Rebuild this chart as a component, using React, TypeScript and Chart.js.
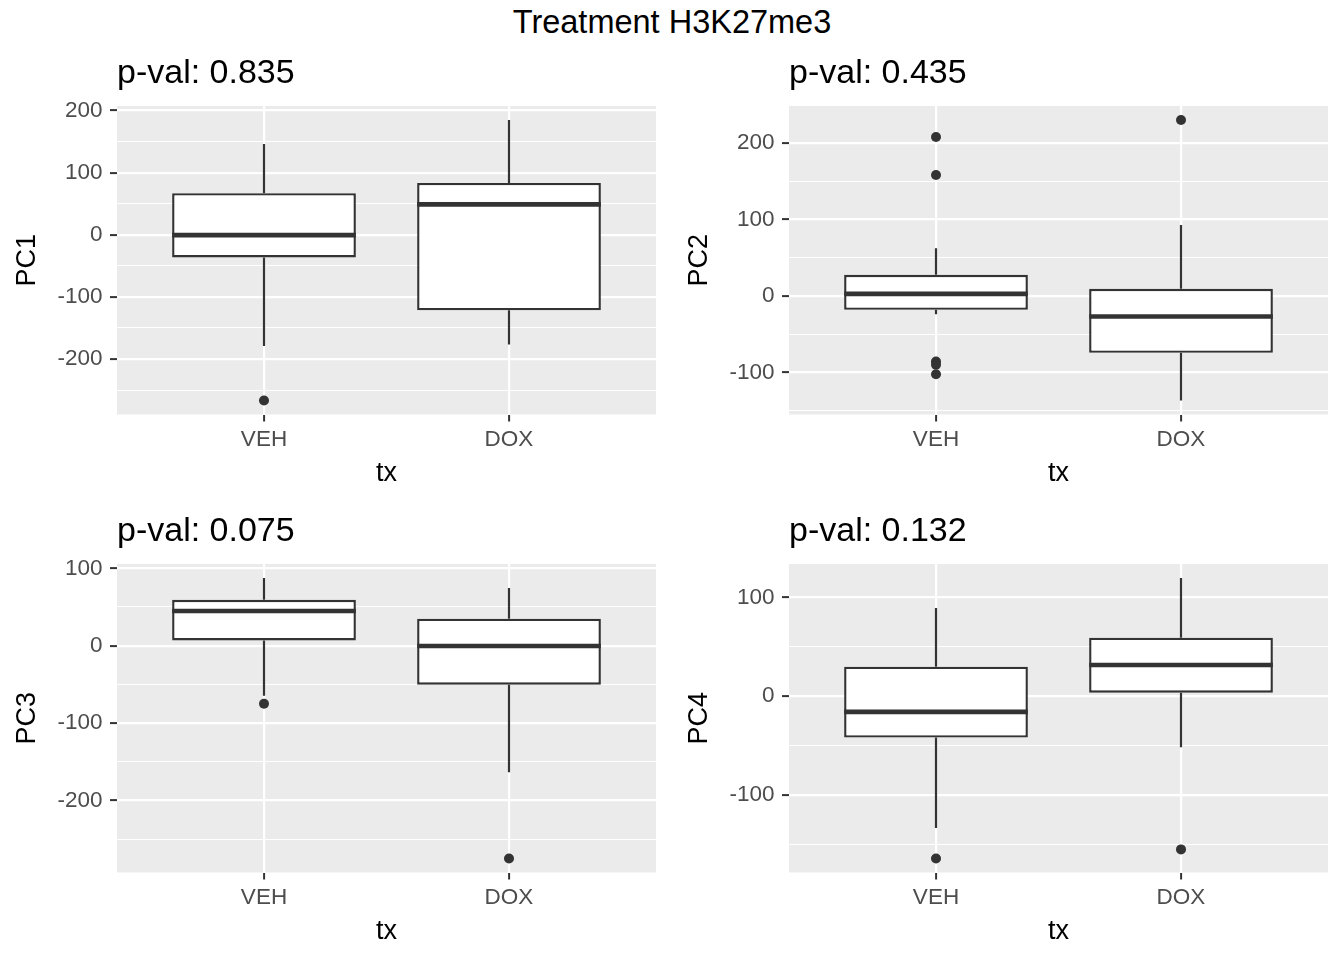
import React, { useEffect, useRef } from 'react';
import { Chart, registerables } from 'chart.js';

Chart.register(...registerables);

const FONT = "'Liberation Sans', Arial, Helvetica, sans-serif";

const mainTitle = 'Treatment H3K27me3';
const categories = ['VEH', 'DOX'];
const categoryPositions = [1, 2];
const xAxisTitle = 'tx';

const panelTitles = ['p-val: 0.835', 'p-val: 0.435', 'p-val: 0.075', 'p-val: 0.132'];
const yAxisTitles = ['PC1', 'PC2', 'PC3', 'PC4'];

// PC1
const pc1Low = [-179, -176.5];
const pc1Q1 = [-36.4, -121.5];
const pc1Median = [-0.5, 49];
const pc1Q3 = [67, 83.5];
const pc1High = [146, 184.6];
const pc1OutliersVEH = [-266.5];
const pc1OutliersDOX: number[] = [];
const pc1MajorTicks = [-200, -100, 0, 100, 200];
const pc1MinorTicks = [-250, -150, -50, 50, 150];

// PC2
const pc2Low = [-24, -136.8];
const pc2Q1 = [-18.3, -74.5];
const pc2Median = [2.6, -27];
const pc2Q3 = [27.5, 9.2];
const pc2High = [62.3, 92.8];
const pc2OutliersVEH = [207.8, 158, -85.8, -90, -102.4];
const pc2OutliersDOX = [230];
const pc2MajorTicks = [-100, 0, 100, 200];
const pc2MinorTicks = [-150, -50, 50, 150];

// PC3
const pc3Low = [-64.6, -163.6];
const pc3Q1 = [6.9, -50.4];
const pc3Median = [44.8, -0.4];
const pc3Q3 = [59.4, 34.9];
const pc3High = [87.5, 74.5];
const pc3OutliersVEH = [-75];
const pc3OutliersDOX = [-275];
const pc3MajorTicks = [-200, -100, 0, 100];
const pc3MinorTicks = [-250, -150, -50, 50];

// PC4
const pc4Low = [-133.3, -51.5];
const pc4Q1 = [-41.7, 3.7];
const pc4Median = [-15.8, 31.7];
const pc4Q3 = [30, 59.3];
const pc4High = [89.3, 119.6];
const pc4OutliersVEH = [-164];
const pc4OutliersDOX = [-154.8];
const pc4MajorTicks = [-100, 0, 100];
const pc4MinorTicks = [-150, -50, 50];

type Panel = {
  title: string;
  yTitle: string;
  low: number[];
  q1: number[];
  median: number[];
  q3: number[];
  high: number[];
  outliers: number[][];
  major: number[];
  minor: number[];
};

const panels: Panel[] = [
  { title: panelTitles[0], yTitle: yAxisTitles[0], low: pc1Low, q1: pc1Q1, median: pc1Median, q3: pc1Q3, high: pc1High, outliers: [pc1OutliersVEH, pc1OutliersDOX], major: pc1MajorTicks, minor: pc1MinorTicks },
  { title: panelTitles[1], yTitle: yAxisTitles[1], low: pc2Low, q1: pc2Q1, median: pc2Median, q3: pc2Q3, high: pc2High, outliers: [pc2OutliersVEH, pc2OutliersDOX], major: pc2MajorTicks, minor: pc2MinorTicks },
  { title: panelTitles[2], yTitle: yAxisTitles[2], low: pc3Low, q1: pc3Q1, median: pc3Median, q3: pc3Q3, high: pc3High, outliers: [pc3OutliersVEH, pc3OutliersDOX], major: pc3MajorTicks, minor: pc3MinorTicks },
  { title: panelTitles[3], yTitle: yAxisTitles[3], low: pc4Low, q1: pc4Q1, median: pc4Median, q3: pc4Q3, high: pc4High, outliers: [pc4OutliersVEH, pc4OutliersDOX], major: pc4MajorTicks, minor: pc4MinorTicks },
];

const CANVAS_W = 672;
const CANVAS_H = 458;
const INK = '#333333';

function buildConfig(p: Panel): any {
  const all = [...p.low, ...p.high, ...p.outliers[0], ...p.outliers[1]];
  const lo = Math.min(...all);
  const hi = Math.max(...all);
  const pad = (hi - lo) * 0.05;
  const isMajor = (v: any) => p.major.includes(v);
  const yTicks = [...p.major, ...p.minor].sort((a, b) => a - b);

  const boxPlugin = {
    id: 'boxExtras',
    beforeDraw(chart: any) {
      const { ctx, chartArea } = chart;
      ctx.save();
      ctx.fillStyle = '#EBEBEB';
      ctx.fillRect(chartArea.left, chartArea.top, chartArea.right - chartArea.left, chartArea.bottom - chartArea.top);
      ctx.restore();
    },
    beforeDatasetsDraw(chart: any) {
      const { ctx } = chart;
      const xs = chart.scales.x;
      const ys = chart.scales.y;
      ctx.save();
      ctx.strokeStyle = INK;
      ctx.lineWidth = 2.2;
      categoryPositions.forEach((c, i) => {
        const px = xs.getPixelForValue(c);
        ctx.beginPath();
        ctx.moveTo(px, ys.getPixelForValue(p.high[i]));
        ctx.lineTo(px, ys.getPixelForValue(p.q3[i]));
        ctx.moveTo(px, ys.getPixelForValue(p.q1[i]));
        ctx.lineTo(px, ys.getPixelForValue(p.low[i]));
        ctx.stroke();
      });
      ctx.restore();
    },
    afterDatasetsDraw(chart: any) {
      const { ctx } = chart;
      const xs = chart.scales.x;
      const ys = chart.scales.y;
      const meta = chart.getDatasetMeta(0);
      ctx.save();
      ctx.strokeStyle = INK;
      ctx.lineWidth = 4.6;
      categoryPositions.forEach((c, i) => {
        const px = xs.getPixelForValue(c);
        const w = meta.data[i] ? meta.data[i].width : 0;
        const py = ys.getPixelForValue(p.median[i]);
        ctx.beginPath();
        ctx.moveTo(px - w / 2, py);
        ctx.lineTo(px + w / 2, py);
        ctx.stroke();
      });
      ctx.restore();
    },
  };

  return {
    type: 'bar',
    data: {
      datasets: [
        {
          type: 'bar',
          data: categoryPositions.map((x, i) => ({ x, y: [p.q1[i], p.q3[i]] })),
          backgroundColor: '#FFFFFF',
          borderColor: INK,
          borderWidth: 2.4,
          borderSkipped: false,
          barPercentage: 0.75,
          categoryPercentage: 1,
        },
        {
          type: 'scatter',
          data: [
            ...p.outliers[0].map((y) => ({ x: categoryPositions[0], y })),
            ...p.outliers[1].map((y) => ({ x: categoryPositions[1], y })),
          ],
          pointRadius: 5,
          pointBackgroundColor: INK,
          pointBorderColor: INK,
          pointBorderWidth: 0,
        },
      ],
    },
    options: {
      responsive: false,
      maintainAspectRatio: false,
      animation: false,
      events: [],
      layout: { padding: { left: 0, right: 16, top: 0, bottom: 0 } },
      plugins: {
        legend: { display: false },
        tooltip: { enabled: false },
        title: {
          display: true,
          text: p.title,
          align: 'start',
          fullSize: false,
          color: '#000000',
          font: { family: FONT, size: 34, weight: 'normal', lineHeight: 1.2 },
          padding: { top: 8.8, bottom: 12.4 },
        },
      },
      scales: {
        x: {
          type: 'linear',
          min: 0.4,
          max: 2.6,
          offset: false,
          afterBuildTicks: (s: any) => {
            s.ticks = categoryPositions.map((v) => ({ value: v }));
          },
          afterFit: (s: any) => {
            s.height = 87.5;
          },
          ticks: {
            callback: (v: any) => {
              const k = categoryPositions.indexOf(v);
              return k >= 0 ? categories[k] : '';
            },
            color: '#4D4D4D',
            font: { family: FONT, size: 22.5, lineHeight: 1.2 },
            padding: 5,
            maxRotation: 0,
            autoSkip: false,
          },
          grid: {
            offset: false,
            color: '#FFFFFF',
            lineWidth: 2.2,
            tickColor: INK,
            tickLength: 7,
            tickWidth: 2,
            drawTicks: true,
          },
          border: { display: false },
          title: {
            display: true,
            text: xAxisTitle,
            color: '#000000',
            font: { family: FONT, size: 27, lineHeight: 1.2 },
            padding: { top: 0, bottom: 11.8 },
          },
        },
        y: {
          type: 'linear',
          min: lo - pad,
          max: hi + pad,
          afterBuildTicks: (s: any) => {
            s.ticks = yTicks.map((v) => ({ value: v }));
          },
          afterFit: (s: any) => {
            s.width = 117;
          },
          ticks: {
            callback: (v: any) => (isMajor(v) ? String(v) : ''),
            color: '#4D4D4D',
            font: { family: FONT, size: 22.5, lineHeight: 1.2 },
            padding: 7.5,
            autoSkip: false,
          },
          grid: {
            color: '#FFFFFF',
            lineWidth: (ctx: any) => (ctx.tick && isMajor(ctx.tick.value) ? 2.2 : 1.1),
            tickColor: (ctx: any) => (ctx.tick && isMajor(ctx.tick.value) ? INK : 'rgba(0,0,0,0)'),
            tickLength: 7,
            tickWidth: 2,
            drawTicks: true,
          },
          border: { display: false },
          title: {
            display: true,
            text: p.yTitle,
            color: '#000000',
            font: { family: FONT, size: 27, lineHeight: 1.2 },
            padding: { top: 11.5, bottom: 0 },
          },
        },
      },
    },
    plugins: [boxPlugin],
  };
}

function PanelChart({ panel, left, top }: { panel: Panel; left: number; top: number }) {
  const ref = useRef<HTMLCanvasElement | null>(null);
  useEffect(() => {
    if (!ref.current) return;
    const chart = new Chart(ref.current, buildConfig(panel));
    return () => chart.destroy();
  }, [panel]);
  return (
    <canvas
      ref={ref}
      width={CANVAS_W}
      height={CANVAS_H}
      style={{ position: 'absolute', left, top, width: CANVAS_W, height: CANVAS_H }}
    />
  );
}

export default function App() {
  const positions = [
    { left: 0, top: 44 },
    { left: 672, top: 44 },
    { left: 0, top: 502 },
    { left: 672, top: 502 },
  ];
  return (
    <div
      style={{
        position: 'absolute',
        left: 0,
        top: 0,
        width: 1344,
        height: 960,
        background: '#FFFFFF',
        overflow: 'hidden',
      }}
    >
      <div
        style={{
          position: 'absolute',
          left: 0,
          top: 1.5,
          width: 1344,
          textAlign: 'center',
          fontFamily: FONT,
          fontSize: 32.5,
          lineHeight: '40px',
          color: '#000000',
        }}
      >
        {mainTitle}
      </div>
      {panels.map((p, i) => (
        <PanelChart key={i} panel={p} left={positions[i].left} top={positions[i].top} />
      ))}
    </div>
  );
}
